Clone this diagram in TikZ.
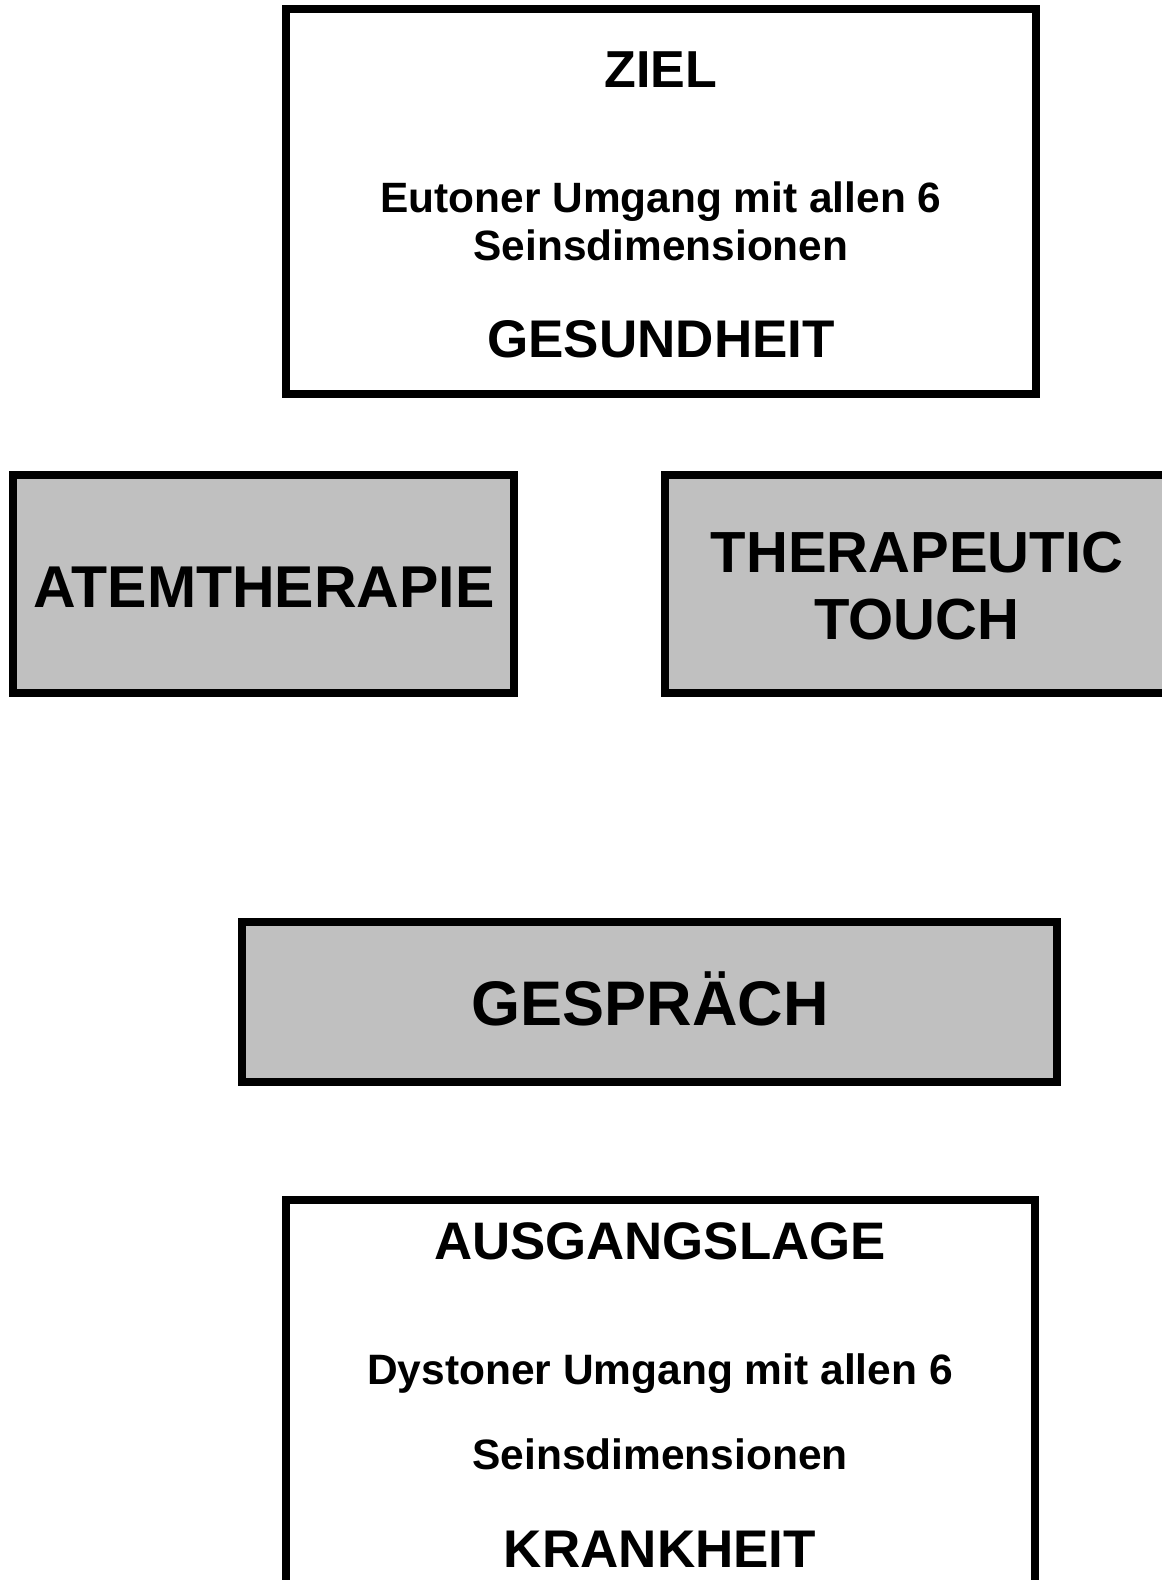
\documentclass[tikz,border=0pt]{standalone}
\usepackage{fontspec}
\setmainfont{Liberation Sans}
\definecolor{boxgrey}{RGB}{192,192,192}
\begin{document}
\begin{tikzpicture}[x=1pt,y=-1pt,
  box/.style={draw=black, line width=8pt, inner sep=0pt, outer sep=0pt, anchor=north west, fill=white},
  greybox/.style={box, fill=boxgrey},
  lbl/.style={anchor=base, inner sep=0pt}]
\useasboundingbox (0,0) rectangle (1162,1580);
\fill[white] (0,0) rectangle (1162,1580);
% boxes
\node[box, minimum width=750pt, minimum height=385pt] (zielbox) at (286,9) {};
\node[greybox, minimum width=501pt, minimum height=218pt] (atembox) at (13,475) {};
\node[greybox, minimum width=520pt, minimum height=218pt] (tbox) at (665,475) {};
\node[greybox, minimum width=815pt, minimum height=160pt] (gbox) at (242,922) {};
\node[box, minimum width=749pt, minimum height=420pt] (abox) at (286,1200) {};
% texts top
\node[lbl, font=\fontsize{52}{60}\selectfont\bfseries] (ziel) at (661,87) {ZIEL};
\node[lbl, font=\fontsize{42.4}{48}\selectfont\bfseries] (eut1) at (661,212) {Eutoner Umgang mit allen 6};
\node[lbl, font=\fontsize{42.4}{48}\selectfont\bfseries] (eut2) at (661,260) {Seinsdimensionen};
\node[lbl, font=\fontsize{53}{60}\selectfont\bfseries] (ges) at (661,357) {GESUNDHEIT};
% middle
\node[lbl, font=\fontsize{59}{66}\selectfont\bfseries] (atem) at (264,607) {ATEMTHERAPIE};
\node[lbl, font=\fontsize{58}{66}\selectfont\bfseries] (ther1) at (917,572) {THERAPEUTIC};
\node[lbl, font=\fontsize{58}{66}\selectfont\bfseries] (ther2) at (917,639) {TOUCH};
\node[lbl, font=\fontsize{63}{70}\selectfont\bfseries] (gespr) at (650,1025) {GESPRÄCH};
% bottom
\node[lbl, font=\fontsize{52.8}{60}\selectfont\bfseries] (aus) at (660,1259) {AUSGANGSLAGE};
\node[lbl, font=\fontsize{42.5}{48}\selectfont\bfseries] (dys1) at (660,1384) {Dystoner Umgang mit allen 6};
\node[lbl, font=\fontsize{42.5}{48}\selectfont\bfseries] (dys2) at (660,1469) {Seinsdimensionen};
\node[lbl, font=\fontsize{53}{60}\selectfont\bfseries] (krank) at (660,1567) {KRANKHEIT};
\end{tikzpicture}
\end{document}
